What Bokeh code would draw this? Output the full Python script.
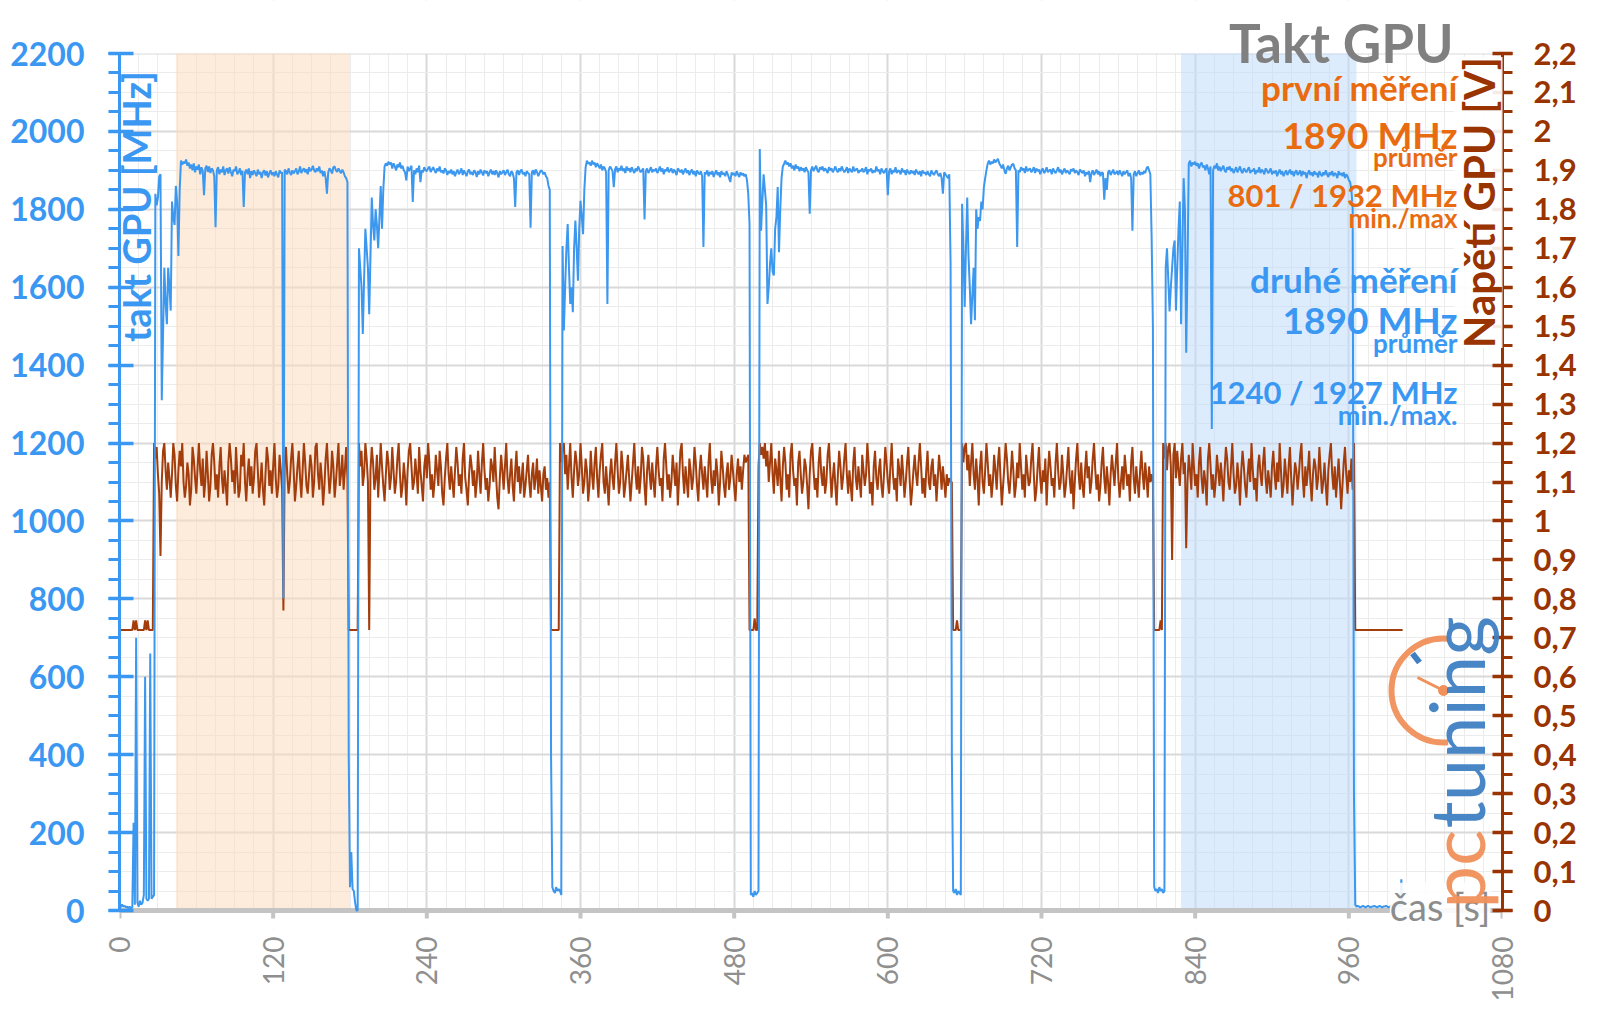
import math
from bokeh.plotting import figure
from bokeh.models import Range1d, LinearAxis, FixedTicker, CustomJSTickFormatter, Label
from bokeh.embed import file_html
from bokeh.resources import INLINE

# ---------------- data (1 sample per second, t = index) ----------------
clock_mhz = [
    0,10,15,10,12,8,10,5,10,5,8,225,15,700,20,10,25,15,20,40,
    600,30,25,30,660,30,35,40,1840,1810,1830,1885,1890,1310,1480,1650,1560,1505,1650,1600,
    1540,1820,1780,1760,1860,1820,1680,1850,1925,1915,1922,1918,1928,1912,1920,1905,1915,1900,1918,1895,
    1910,1902,1915,1890,1908,1898,1836,1905,1912,1896,1910,1893,1905,1900,1885,1754,1900,1908,1890,1902,
    1895,1910,1888,1900,1905,1892,1908,1896,1885,1902,1898,1910,1890,1895,1905,1888,1899,1806,1895,1902,
    1890,1905,1880,1898,1888,1900,1893,1885,1902,1890,1896,1880,1895,1900,1887,1898,1882,1893,1900,1888,
    1895,1885,1898,1890,1882,1900,1893,1895,801,1902,1898,1890,1905,1895,1888,1900,1892,1898,1905,1890,
    1897,1910,1893,1900,1905,1895,1903,1890,1908,1898,1902,1912,1900,1895,1905,1898,1910,1893,1900,1885,
    1898,1880,1840,1895,1905,1900,1892,1908,1910,1900,1896,1905,1898,1893,1902,1895,1885,1880,1870,400,
    60,150,55,50,20,0,0,1700,1650,1600,1480,1620,1750,1700,1650,1531,1680,1830,1760,1720,
    1800,1760,1700,1780,1860,1750,1850,1910,1918,1912,1922,1915,1920,1905,1918,1910,1900,1915,1908,1920,
    1905,1912,1900,1895,1874,1910,1898,1905,1912,1819,1900,1890,1905,1895,1912,1870,1900,1895,1908,1900,
    1898,1905,1910,1896,1902,1908,1900,1893,1905,1898,1910,1895,1900,1892,1905,1900,1888,1898,1893,1902,
    1890,1898,1885,1895,1902,1890,1896,1905,1888,1900,1893,1885,1898,1902,1890,1896,1888,1900,1895,1883,
    1898,1890,1902,1895,1887,1900,1893,1898,1885,1895,1902,1890,1898,1888,1900,1893,1882,1898,1890,1895,
    1900,1888,1895,1902,1890,1885,1898,1893,1880,1806,1895,1900,1888,1898,1902,1890,1895,1885,1898,1893,
    1890,1753,1895,1900,1888,1902,1896,1885,1893,1900,1898,1890,1895,1885,1880,1860,1850,400,60,50,
    45,60,50,55,50,40,1706,1489,1600,1700,1762,1650,1557,1600,1536,1700,1771,1700,1617,1750,
    1822,1780,1736,1850,1908,1925,1917,1920,1912,1925,1915,1920,1908,1918,1912,1905,1915,1900,1910,1905,
    1895,1557,1900,1910,1905,1898,1857,1903,1910,1895,1905,1900,1912,1898,1905,1893,1910,1900,1905,1895,
    1908,1900,1893,1905,1898,1910,1902,1895,1900,1905,1774,1898,1905,1893,1900,1908,1895,1902,1898,1905,
    1893,1900,1910,1897,1905,1890,1902,1898,1908,1895,1900,1905,1893,1902,1897,1888,1905,1900,1895,1902,
    1890,1898,1905,1893,1900,1888,1897,1902,1890,1898,1885,1900,1893,1890,1898,1885,1703,1895,1890,1900,
    1885,1896,1890,1898,1883,1893,1900,1888,1895,1882,1898,1890,1893,1885,1898,1890,1880,1870,1895,1888,
    1893,1885,1898,1890,1883,1895,1888,1892,1885,1890,1875,1840,1762,40,45,35,50,40,45,50,
    1955,1745,1820,1890,1850,1810,1557,1600,1660,1700,1640,1630,1750,1780,1857,1690,1800,1880,1910,1917,
    1925,1915,1920,1910,1918,1905,1912,1900,1915,1905,1910,1898,1908,1900,1905,1895,1908,1900,1895,1789,
    1900,1910,1898,1905,1912,1900,1895,1908,1902,1910,1898,1905,1900,1893,1908,1900,1905,1895,1902,1910,
    1900,1895,1905,1898,1910,1902,1895,1900,1908,1893,1905,1900,1895,1910,1898,1902,1905,1893,1900,1898,
    1905,1895,1900,1908,1890,1902,1898,1905,1893,1900,1895,1910,1898,1902,1890,1905,1898,1893,1900,1905,
    1836,1898,1905,1890,1900,1895,1908,1893,1900,1898,1890,1905,1895,1900,1888,1902,1895,1890,1900,1893,
    1898,1888,1902,1895,1890,1898,1885,1900,1893,1895,1888,1898,1890,1885,1900,1893,1888,1895,1900,1890,
    1885,1893,1880,1840,1895,1890,1885,1880,1890,1660,400,50,45,55,40,50,45,40,1814,1700,
    1549,1700,1830,1680,1600,1505,1580,1650,1515,1800,1750,1780,1770,1820,1800,1857,1880,1900,1917,1925,
    1915,1922,1918,1928,1920,1925,1930,1918,1912,1905,1915,1900,1891,1905,1912,1900,1908,1915,1917,1905,
    1900,1703,1900,1895,1908,1900,1905,1893,1910,1898,1902,1905,1895,1900,1908,1893,1905,1898,1902,1890,
    1900,1905,1893,1898,1908,1895,1900,1902,1890,1905,1898,1893,1900,1908,1895,1902,1890,1898,1905,1893,
    1900,1895,1890,1903,1898,1905,1893,1900,1895,1888,1902,1898,1893,1900,1885,1895,1890,1898,1870,1893,
    1900,1888,1895,1902,1890,1898,1885,1895,1893,1825,1880,1850,1895,1900,1888,1895,1902,1890,1893,1898,
    1888,1900,1893,1885,1898,1890,1895,1900,1885,1893,1880,1745,1890,1898,1885,1893,1900,1888,1895,1890,
    1898,1893,1905,1910,1900,1890,1728,1500,60,50,55,45,60,50,55,45,50,1650,1700,1620,
    1538,1600,1650,1700,1720,1540,1650,1750,1820,1505,1700,1880,1800,1432,1650,1917,1925,1910,1920,1915,
    1922,1912,1918,1905,1915,1920,1908,1912,1900,1915,1905,1890,1910,1236,1900,1912,1905,1918,1900,1910,
    1898,1905,1912,1900,1895,1908,1902,1910,1898,1905,1893,1900,1908,1895,1902,1910,1898,1893,1905,1900,
    1895,1902,1908,1893,1900,1898,1905,1890,1900,1895,1908,1893,1902,1898,1890,1905,1900,1893,1898,1905,
    1890,1898,1893,1900,1885,1895,1902,1890,1898,1885,1893,1900,1888,1895,1902,1890,1898,1885,1895,1900,
    1888,1893,1900,1885,1898,1890,1895,1880,1893,1900,1888,1895,1885,1898,1890,1893,1882,1898,1890,1885,
    1895,1888,1900,1890,1883,1895,1888,1898,1885,1893,1890,1880,1898,1888,1893,1885,1895,1880,1890,1885,
    1875,1870,1850,1800,300,15,10,12,10,8,10,12,10,8,10,12,10,8,10,10,
    12,10,8,10,12,10,8,10,10,12,10,8,10,12,10,8,10,12,10,10,
    10,80,10,
]

voltage_mv = [
    720,720,720,720,720,720,720,720,720,720,720,745,720,745,720,720,720,720,720,720,
    745,720,745,720,720,720,720,1200,1160,1190,1120,1070,910,1100,1180,1200,1130,1080,1150,1110,
    1060,1120,1200,1170,1090,1050,1130,1180,1140,1200,1100,1060,1090,1150,1120,1040,1080,1190,1160,1110,
    1070,1140,1200,1130,1090,1160,1060,1100,1180,1120,1050,1090,1170,1200,1150,1080,1120,1060,1140,1190,
    1110,1070,1130,1090,1040,1150,1200,1160,1100,1130,1070,1190,1120,1060,1080,1170,1140,1200,1100,1050,
    1120,1160,1090,1140,1070,1110,1180,1200,1130,1060,1100,1150,1080,1040,1120,1190,1160,1090,1130,1070,
    1140,1200,1110,1060,1090,1170,1130,1080,770,1150,1190,1120,1070,1100,1160,1200,1130,1050,1090,1140,
    1180,1110,1060,1130,1200,1150,1090,1070,1120,1170,1140,1060,1100,1190,1200,1120,1080,1150,1110,1040,
    1090,1160,1200,1130,1070,1110,1180,1140,1060,1100,1150,1200,1090,1120,1170,1080,1130,1190,1110,720,
    720,720,720,720,720,720,720,1200,1140,1180,1090,1120,1200,1160,1100,720,1130,1190,1150,1080,
    1110,1170,1060,1130,1200,1140,1090,1050,1120,1180,1150,1080,1110,1190,1130,1070,1100,1160,1200,1120,
    1060,1090,1150,1110,1040,1130,1180,1200,1140,1080,1100,1160,1120,1070,1190,1130,1090,1050,1140,1170,
    1110,1200,1150,1080,1120,1060,1100,1170,1130,1090,1180,1140,1070,1040,1110,1160,1200,1120,1080,1140,
    1100,1060,1130,1190,1150,1090,1120,1070,1160,1200,1110,1080,1040,1120,1170,1140,1090,1130,1060,1100,
    1180,1120,1070,1150,1200,1130,1080,1110,1050,1090,1160,1140,1100,1190,1120,1060,1030,1110,1170,1130,
    1080,1140,1200,1110,1070,1120,1160,1090,1050,1130,1180,1100,1140,1070,1110,1150,1060,1090,1130,1170,
    1100,1060,1120,1150,1080,1110,1160,1070,1130,1090,1050,1120,1140,1080,1110,1060,1100,720,720,720,
    720,720,720,720,1200,1150,1190,1200,1120,1170,1080,1140,1200,1110,1060,1130,1180,1150,1090,1120,
    1200,1140,1070,1100,1160,1130,1050,1090,1180,1120,1080,1150,1190,1110,1060,1130,1170,1200,1100,1070,
    1140,1090,1040,1120,1160,1110,1080,1150,1200,1130,1070,1100,1180,1140,1060,1090,1130,1170,1110,1050,
    1100,1150,1200,1120,1080,1140,1070,1110,1190,1160,1090,1040,1130,1170,1120,1080,1150,1100,1060,1140,
    1190,1130,1090,1110,1050,1160,1200,1140,1080,1120,1060,1100,1170,1130,1090,1150,1040,1110,1180,1200,
    1120,1070,1140,1100,1060,1160,1130,1080,1110,1190,1150,1090,1050,1130,1170,1120,1080,1140,1100,1060,
    1150,1200,1110,1070,1130,1090,1160,1120,1040,1100,1180,1140,1090,1060,1120,1150,1080,1110,1170,1130,
    1090,1050,1120,1160,1100,1140,1080,1130,1170,1150,1160,1170,720,720,720,720,750,720,720,1140,
    1200,1170,1190,1160,1200,1140,1180,1100,1150,1200,1120,1070,1160,1130,1090,1180,1110,1050,1140,1190,
    1150,1080,1120,1060,1170,1200,1130,1090,1110,1040,1150,1180,1120,1070,1100,1160,1140,1090,1030,1120,
    1180,1200,1130,1080,1110,1060,1150,1190,1120,1090,1140,1070,1100,1170,1200,1130,1060,1110,1150,1090,
    1040,1120,1180,1140,1080,1110,1160,1200,1120,1070,1130,1090,1050,1150,1190,1110,1080,1140,1100,1060,
    1170,1130,1090,1120,1200,1150,1070,1100,1040,1140,1180,1110,1080,1130,1160,1090,1060,1120,1190,1150,
    1100,1070,1140,1200,1120,1080,1110,1050,1160,1130,1090,1170,1120,1060,1100,1150,1190,1110,1040,1080,
    1130,1170,1120,1090,1150,1200,1140,1070,1110,1060,1130,1180,1100,1080,1140,1160,1090,1120,1050,1110,
    1170,1130,1080,1140,1100,1060,1120,1090,1110,1100,1100,720,720,720,745,720,720,720,1200,1150,
    1190,1200,1130,1170,1090,1150,1200,1120,1080,1160,1110,1040,1140,1180,1100,1070,1130,1200,1150,1090,
    1120,1060,1100,1170,1130,1080,1150,1190,1110,1040,1090,1140,1200,1160,1100,1070,1120,1180,1130,1060,
    1090,1150,1110,1200,1140,1080,1120,1060,1170,1130,1090,1100,1160,1200,1120,1050,1080,1140,1190,1110,
    1070,1130,1100,1160,1040,1120,1180,1140,1090,1110,1060,1150,1200,1130,1080,1100,1170,1120,1060,1090,
    1140,1190,1110,1070,1130,1030,1100,1160,1200,1120,1080,1150,1090,1060,1130,1180,1110,1140,1070,1100,
    1160,1200,1130,1080,1120,1050,1090,1150,1190,1110,1070,1140,1100,1040,1120,1170,1130,1090,1150,1200,
    1110,1060,1100,1140,1080,1170,1130,1090,1120,1050,1150,1190,1110,1070,1140,1100,1060,1130,1180,1120,
    1080,1150,1110,1060,1140,1100,1120,1100,720,720,720,720,720,745,720,1200,1160,1200,1130,1190,
    1200,1140,900,1170,1200,1110,1180,1130,1090,1160,1200,1120,1150,930,1100,1170,1130,1080,1200,1140,
    1090,1120,1060,1150,1190,1110,1070,1130,1100,1040,1160,1200,1140,1080,1120,1060,1100,1170,1130,1090,
    1150,1110,1050,1130,1190,1160,1100,1080,1140,1200,1120,1070,1090,1150,1110,1040,1130,1180,1140,1090,
    1060,1120,1160,1100,1200,1130,1080,1110,1050,1140,1170,1120,1090,1150,1190,1110,1070,1130,1100,1060,
    1140,1180,1120,1080,1150,1100,1200,1130,1060,1090,1160,1120,1070,1140,1190,1110,1040,1100,1150,1130,
    1080,1120,1170,1200,1110,1060,1140,1090,1130,1180,1100,1050,1120,1160,1140,1080,1110,1190,1130,1070,
    1100,1150,1090,1040,1130,1170,1200,1120,1080,1140,1060,1110,1160,1100,1030,1090,1150,1190,1120,1070,
    1130,1100,1160,1080,1200,720,720,720,720,720,720,720,720,720,720,720,720,720,720,720,
    720,720,720,720,720,720,720,720,720,720,720,720,720,720,720,720,720,720,720,720,
    720,720,720,
]

shade_start_s = [44, 829]
shade_end_s = [180, 966]
shade_colors = ["#FBDBBF", "#C1DCFA"]

x_ticks = list(range(0, 1081, 120))
x_minor = list(range(0, 1081, 15))
y_ticks = list(range(0, 2201, 200))
y_minor = list(range(0, 2201, 50))
v_ticks = [round(i * 0.1, 1) for i in range(23)]
v_minor = [round(i * 0.05, 2) for i in range(45)]

# ---------------- styling / layout ----------------
BLUE = "#3A97F2"
BLUE_LINE = "#3C97EE"
BROWN = "#993300"
BROWN_LINE = "#A33D0C"
ORANGE = "#E96B10"
GRAY = "#808080"
AXIS_GRAY = "#C4C4C4"
FONT = "Lato"

W, H = 1600, 1009
FL, FR, FT, FB = 119, 1502, 53, 910   # plot area (x 0..1080, y 0..2200) in page px
XMAX, YMAX = 1080, 2200
FRAME_TOP, FRAME_BOTTOM = 0, 929      # frame extended vertically so texts are not clipped
PXY = (FB - FT) / YMAX
Y_LO = -(FRAME_BOTTOM - FB) / PXY
Y_HI = (FB - FRAME_TOP) / PXY


def to_data(xp, yp):
    return ((xp - FL) / (FR - FL) * XMAX, (FB - yp) / PXY)


p = figure(width=W, height=H, x_range=Range1d(0, XMAX), y_range=Range1d(Y_LO, Y_HI),
           output_backend="svg", toolbar_location=None,
           min_border_left=FL, min_border_right=W - FR,
           min_border_top=FRAME_TOP, min_border_bottom=H - FRAME_BOTTOM)
p.extra_y_ranges = {"volt": Range1d(Y_LO / 1000, Y_HI / 1000)}
p.outline_line_color = None
p.background_fill_color = "white"
p.border_fill_color = "white"

# bottom axis: only its (rotated) tick labels; line and ticks drawn at y = 0 below
xa = p.xaxis[0]
xa.ticker = FixedTicker(ticks=x_ticks, minor_ticks=x_minor)
xa.axis_line_color = None
xa.major_tick_line_color = None
xa.minor_tick_line_color = None
xa.major_tick_in = 0
xa.major_tick_out = 0
xa.major_label_orientation = math.pi / 2
xa.major_label_text_font = FONT
xa.major_label_text_font_size = "28px"
xa.major_label_text_color = "#8F8F8F"
xa.major_label_standoff = 3

ya = p.yaxis[0]
ya.ticker = FixedTicker(ticks=y_ticks, minor_ticks=y_minor)
ya.bounds = (0, YMAX)
ya.axis_line_color = BLUE
ya.axis_line_width = 3
ya.major_tick_line_color = BLUE
ya.major_tick_line_width = 3.5
ya.major_tick_in = 14
ya.major_tick_out = 11
ya.minor_tick_line_color = BLUE
ya.minor_tick_line_width = 3
ya.minor_tick_in = 0
ya.minor_tick_out = 11
ya.major_label_text_font = FONT
ya.major_label_text_font_style = "bold"
ya.major_label_text_font_size = "32px"
ya.major_label_text_color = BLUE
ya.major_label_standoff = 24

ra = LinearAxis(y_range_name="volt", ticker=FixedTicker(ticks=v_ticks, minor_ticks=v_minor),
                formatter=CustomJSTickFormatter(code="""
                    const v = Math.round(tick * 10) / 10;
                    return v.toString().replace('.', ',');
                """))
ra.bounds = (0, 2.2)
ra.axis_line_color = BROWN
ra.axis_line_width = 3
ra.major_tick_line_color = BROWN
ra.major_tick_line_width = 3.5
ra.major_tick_in = 10
ra.major_tick_out = 10
ra.minor_tick_line_color = BROWN
ra.minor_tick_line_width = 3
ra.minor_tick_in = 0
ra.minor_tick_out = 10
ra.major_label_text_font = FONT
ra.major_label_text_font_style = "bold"
ra.major_label_text_font_size = "31px"
ra.major_label_text_color = BROWN
ra.major_label_standoff = 21
p.add_layout(ra, "right")

# grids
for g in (p.xgrid[0], p.ygrid[0]):
    g.grid_line_color = "#D9D9D9"
    g.grid_line_width = 2
    g.minor_grid_line_color = "#ECECEC"
    g.minor_grid_line_width = 1

# white covers outside the 0..2200 band (hide grid lines there)
p.quad(left=[0, 0], right=[XMAX, XMAX], bottom=[Y_LO, YMAX], top=[0, Y_HI],
       fill_color="white", line_color=None)

# shaded regions
p.quad(left=shade_start_s, right=shade_end_s, bottom=0, top=YMAX,
       fill_color=shade_colors, fill_alpha=0.55, line_color=None)

# x axis line and ticks at y = 0
tick_len = 8 / PXY
p.segment(x0=[x_ticks[0]], y0=[0], x1=[x_ticks[-1]], y1=[0], line_color=AXIS_GRAY, line_width=5)
p.segment(x0=x_ticks, y0=[0] * len(x_ticks), x1=x_ticks, y1=[-tick_len] * len(x_ticks),
          line_color=AXIS_GRAY, line_width=4)

# series
t_clock = list(range(len(clock_mhz)))
t_volt = list(range(len(voltage_mv)))
volts = [v / 1000 for v in voltage_mv]
p.line(t_volt, volts, y_range_name="volt", line_color=BROWN_LINE, line_width=2)
p.line(t_clock, clock_mhz, line_color=BLUE_LINE, line_width=2)

MID = 0.39  # distance baseline -> middle of text box, in em


def add_text(text, xp, yp, color, size, bold=True, align="right", angle=0.0,
             bg=None, alpha=1.0):
    """xp/yp: page position of the text baseline (for rotated text xp is the baseline)."""
    if angle == 0.0:
        yp = yp - MID * size
    else:
        xp = xp - MID * size
    x, y = to_data(xp, yp)
    lab = Label(x=x, y=y, text=text, text_color=color, text_font=FONT,
                text_font_size=f"{size}px", text_font_style="bold" if bold else "normal",
                text_align=align, text_baseline="middle", angle=angle, text_alpha=alpha)
    if bg:
        lab.background_fill_color = bg
        lab.background_fill_alpha = 0.9
    p.add_layout(lab)


# axis titles (right one first so the stat texts are drawn over its backdrop)
add_text("Napětí GPU [V]", 1495, 202, BROWN, 42, align="center", angle=math.pi / 2, bg="white")
add_text("takt GPU [MHz]", 150, 206, BLUE, 38, align="center", angle=math.pi / 2)
add_text("čas [s]", 1490, 920, "#8C8C8C", 38, bold=False, bg="white")

# top-right texts
add_text("Takt GPU", 1453, 63, GRAY, 53)
add_text("první měření", 1457, 100, ORANGE, 35)
add_text("1890 MHz", 1457, 148, ORANGE, 37)
add_text("průměr", 1457, 167, ORANGE, 26)
add_text("801 / 1932 MHz", 1457, 207, ORANGE, 31)
add_text("min./max", 1457, 228, ORANGE, 26)
add_text("druhé měření", 1457, 292, BLUE, 35)
add_text("1890 MHz", 1457, 333, BLUE, 37)
add_text("průměr", 1457, 353, BLUE, 26)
add_text("1240 / 1927 MHz", 1457, 404, BLUE, 31)
add_text("min./max.", 1457, 425, BLUE, 27)

# pctuning logo
LOGO_OR = "#F0905A"
LOGO_BL = "#3F7FC2"
add_text("pc", 1485, 908, LOGO_OR, 76, bold=False, align="left", angle=math.pi / 2, alpha=0.95)
add_text("tuning", 1485, 828, LOGO_BL, 76, bold=False, align="left", angle=math.pi / 2, alpha=0.95)
cx, cy = to_data(1443, 690)
p.arc(x=[cx], y=[cy], radius=52, radius_units="screen",
      start_angle=math.radians(85), end_angle=math.radians(275),
      line_color=LOGO_OR, line_width=6, line_alpha=0.95)
nx, ny = to_data(1417, 677)
p.segment(x0=[cx], y0=[cy], x1=[nx], y1=[ny], line_color=LOGO_OR, line_width=3)
p.scatter([cx], [cy], size=10, color=LOGO_OR)
bx0, by0 = to_data(1419, 662)
bx1, by1 = to_data(1412, 653)
p.segment(x0=[bx0], y0=[by0], x1=[bx1], y1=[by1], line_color=LOGO_BL, line_width=6)

open("out.html", "w").write(file_html(p, INLINE))
